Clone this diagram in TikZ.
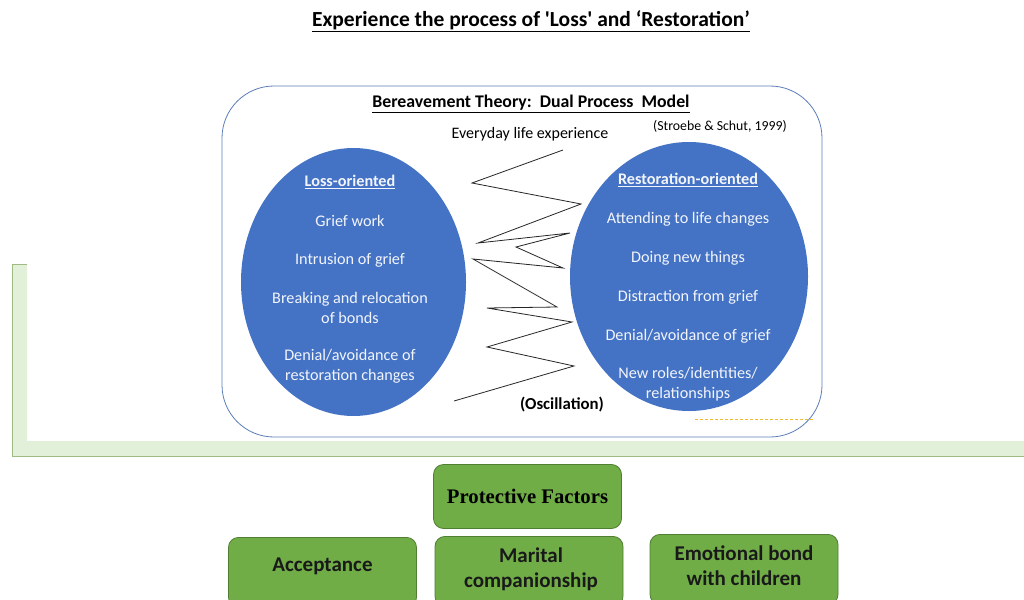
\documentclass[tikz,border=0pt]{standalone}
\usepackage{fontspec}
\setmainfont{Carlito}[Ligatures=TeXOff]
\newfontfamily\serifbold{Liberation Serif}
\usetikzlibrary{calc}
\definecolor{ellblue}{HTML}{4472C4}
\definecolor{frameblue}{HTML}{5B7DB8}
\definecolor{boxgreen}{HTML}{70AD47}
\definecolor{boxedge}{HTML}{507E32}
\definecolor{palegreen}{HTML}{E2EFD9}
\definecolor{paleedge}{HTML}{9DBB82}
\definecolor{dashorange}{HTML}{F2B92E}
\tikzset{
  ovaltext/.style={text=white!93!ellblue, align=center, font=\fontsize{16.2}{20}\selectfont, inner sep=0pt},
  ovalhead/.style={ovaltext, font=\bfseries\fontsize{16.2}{20}\selectfont},
  factorbox/.style={draw=boxedge, line width=0.8pt, fill=boxgreen, rounded corners=10pt,
    minimum width=188pt, align=center, inner sep=0pt},
  factortext/.style={font=\bfseries\fontsize{21}{25}\selectfont, align=center, text=black!90},
}
\begin{document}
\begin{tikzpicture}[x=1pt,y=-1pt]
\useasboundingbox (0,0) rectangle (1024,599);
\fill[white] (0,0) rectangle (1024,599);
\begin{scope}
\clip (0,0) rectangle (1024,599);

% heading
\node[font=\bfseries\fontsize{21.5}{22}\selectfont] (head) at (531,21)
  {\underline{Experience the process of 'Loss' and ‘Restoration’}};

% light green bracket frame
\fill[palegreen] (12,264) -- (27,264) -- (27,441) -- (1024,441) -- (1024,456) -- (12,456) -- cycle;
\draw[paleedge, line width=1pt] (27,264) -- (12,264) -- (12,456) -- (1024,456);

% rounded panel of the model
\draw[frameblue, line width=0.8pt, fill=white] (222,86) [rounded corners=52pt] rectangle (822,437);
\node (panel) at (522,262) {};

\node[font=\bfseries\fontsize{17.8}{18}\selectfont] (model) at (531,104)
  {\underline{Bereavement Theory:\ \ Dual Process\ \ Model}};
\node[font=\fontsize{13.8}{14}\selectfont] (cite) at (720,126) {(Stroebe \& Schut, 1999)};
\node[font=\fontsize{16}{17}\selectfont] (everyday) at (530,134) {Everyday life experience};

% the two orientations
\fill[ellblue] (353.5,282) ellipse [x radius=112.5, y radius=134];
\fill[ellblue] (689,276.5) ellipse [x radius=119, y radius=134.5];
\node (loss) at (353.5,282) {};
\node (rest) at (689,276.5) {};

\node[ovalhead] (lhead) at (350,182) {\underline{Loss-oriented}};
\node[ovaltext] (l1) at (350,221) {Grief work};
\node[ovaltext] (l2) at (350,260) {Intrusion of grief};
\node[ovaltext] (l3) at (350,308) {Breaking and relocation\\of bonds};
\node[ovaltext] (l4) at (350,366) {Denial/avoidance of\\restoration changes};

\node[ovalhead] (rhead) at (688,180) {\underline{Restoration-oriented}};
\node[ovaltext] (r1) at (688,219) {Attending to life changes};
\node[ovaltext] (r2) at (688,258) {Doing new things};
\node[ovaltext] (r3) at (688,297) {Distraction from grief};
\node[ovaltext] (r4) at (688,336) {Denial/avoidance of grief};
\node[ovaltext] (r5) at (688,384) {New roles/identities/\\relationships};

% oscillation zigzag between the two orientations
\draw[black!85, line width=0.8pt, line join=miter]
  (563,150) -- (472,183) -- (581,204) -- (478,243) -- (570,233) -- (516,247)
  -- (563,268) -- (473,259) -- (557,307) -- (487,308) -- (572,322) -- (487,347)
  -- (574,366) -- (454,401);
\node[font=\bfseries\fontsize{16.8}{17}\selectfont] (osc) at (562,405) {(Oscillation)};

% dashed rule
\coordinate (dashL) at (695,419);
\coordinate (dashR) at (814,419);
\draw[dashorange, line width=1pt, dash pattern=on 3pt off 2pt] (dashL) -- (dashR);

% protective factors
\node[factorbox, minimum height=64pt] (pf) at (527.5,496.5)
  {\serifbold\bfseries\fontsize{20.7}{22}\selectfont Protective Factors};
\node[factorbox, minimum height=70pt, anchor=north] (acc) at (322.5,537) {};
\node[factortext] (acct) at (322.5,566) {Acceptance};
\node[factorbox, minimum height=70pt, anchor=north] (mar) at (529,536) {};
\node[factortext] (mart) at (531,569) {Marital\\companionship};
\node[factorbox, minimum height=70pt, anchor=north] (emo) at (744,534) {};
\node[factortext] (emot) at (744,566) {Emotional bond\\with children};
\end{scope}
\end{tikzpicture}
\end{document}
